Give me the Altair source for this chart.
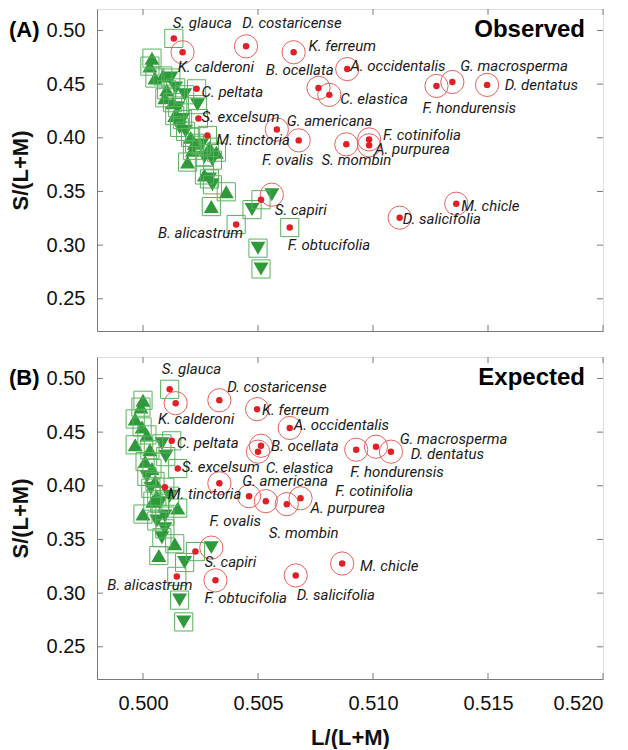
import altair as alt
import pandas as pd

# ---------------- data ----------------
species = ["S. glauca", "K. calderoni", "D. costaricense", "K. ferreum", "B. ocellata",
           "C. elastica", "A. occidentalis", "G. macrosperma", "F. hondurensis", "D. dentatus",
           "C. peltata", "S. excelsum", "G. americana", "M. tinctoria", "F. ovalis",
           "S. mombin", "F. cotinifolia", "A. purpurea", "S. capiri", "B. alicastrum",
           "F. obtucifolia", "D. salicifolia", "M. chicle"]

# (A) Observed
obs_L = [0.50134, 0.50172, 0.50448, 0.50655, 0.50763, 0.50810, 0.50888, 0.51345, 0.51276, 0.51496,
         0.50233, 0.50241, 0.50582, 0.50280, 0.50677, 0.50884, 0.50983, 0.50983, 0.50513, 0.50405,
         0.50638, 0.51116, 0.51362]
obs_S = [0.4926, 0.4797, 0.4852, 0.4797, 0.4465, 0.4400, 0.4640, 0.4520, 0.4483, 0.4493,
         0.4456, 0.4179, 0.4077, 0.4022, 0.3976, 0.3939, 0.3985, 0.3930, 0.3423, 0.3192,
         0.3164, 0.3256, 0.3386]
obs_frame = ["square", "circle", "circle", "circle", "circle", "circle", "circle", "circle", "circle", "circle",
             "square", "square", "circle", "square", "circle", "circle", "circle", "circle", "square", "square",
             "square", "circle", "circle"]
obs_label_L = [0.50129, 0.50151, 0.50431, 0.50720, 0.50534, 0.50858, 0.50901, 0.51379, 0.51215, 0.51573,
               0.50254, 0.50254, 0.50625, 0.50319, 0.50517, 0.50776, 0.51043, 0.51009, 0.50573, 0.50065,
               0.50629, 0.51129, 0.51384]
obs_label_S = [0.5065, 0.4659, 0.5065, 0.4852, 0.4631, 0.4364, 0.4668, 0.4668, 0.4281, 0.4493,
               0.4428, 0.4198, 0.4152, 0.3977, 0.3792, 0.3792, 0.4023, 0.3894, 0.3331, 0.3110,
               0.3000, 0.3239, 0.3368]

# (B) Expected
exp_L = [0.50116, 0.50142, 0.50332, 0.50496, 0.50513, 0.50500, 0.50638, 0.51013, 0.50927, 0.51078,
         0.50125, 0.50151, 0.50332, 0.50095, 0.50461, 0.50534, 0.50685, 0.50625, 0.50228, 0.50147,
         0.50315, 0.50664, 0.50866]
exp_S = [0.4899, 0.4770, 0.4797, 0.4714, 0.4373, 0.4318, 0.4539, 0.4364, 0.4336, 0.4318,
         0.4419, 0.4161, 0.4023, 0.3986, 0.3903, 0.3857, 0.3884, 0.3829, 0.3387, 0.3156,
         0.3119, 0.3165, 0.3276]
exp_frame = ["square", "circle", "circle", "circle", "circle", "circle", "circle", "circle", "circle", "circle",
             "square", "square", "circle", "square", "circle", "circle", "circle", "circle", "square", "square",
             "circle", "circle", "circle"]
exp_label_L = [0.50082, 0.50065, 0.50366, 0.50517, 0.50556, 0.50534, 0.50655, 0.51116, 0.50901, 0.51164,
               0.50147, 0.50168, 0.50431, 0.50108, 0.50289, 0.50547, 0.50836, 0.50728, 0.50267, 0.49845,
               0.50267, 0.50668, 0.50944]
exp_label_S = [0.5092, 0.4622, 0.4917, 0.4705, 0.4373, 0.4170, 0.4567, 0.4438, 0.4124, 0.4299,
               0.4401, 0.4179, 0.4041, 0.3921, 0.3672, 0.3562, 0.3949, 0.3792, 0.3294, 0.3073,
               0.2953, 0.2981, 0.3257]

# unlabeled samples (triangles)
obs_tri_L = [0.50039, 0.50030, 0.50052, 0.50086, 0.50121, 0.50103, 0.50142, 0.50181, 0.50095, 0.50129,
             0.50151, 0.50237, 0.50138, 0.50172, 0.50159, 0.50185, 0.50207, 0.50224, 0.50254, 0.50289,
             0.50319, 0.50215, 0.50194, 0.50267, 0.50302, 0.50267, 0.50289, 0.50302, 0.50362, 0.50297,
             0.50474, 0.50560, 0.50500, 0.50513]
obs_tri_S = [0.4742, 0.4668, 0.4557, 0.4576, 0.4557, 0.4447, 0.4465, 0.4401, 0.4373, 0.4327,
             0.4281, 0.4309, 0.4207, 0.4170, 0.4097, 0.4060, 0.4004, 0.3949, 0.3930, 0.3912,
             0.3866, 0.3884, 0.3774, 0.3820, 0.3792, 0.3654, 0.3617, 0.3562, 0.3497, 0.3359,
             0.3331, 0.3470, 0.2972, 0.2778]
obs_tri_dir = ["up", "up", "up", "up", "down", "up", "down", "down", "up", "up",
               "down", "down", "up", "down", "down", "down", "up", "up", "down", "up",
               "up", "up", "up", "down", "down", "up", "down", "down", "up", "up",
               "down", "down", "down", "down"]
obs_tri_frame = ["square"] * 31 + ["circle"] + ["square"] * 2

exp_tri_L = [0.50000, 0.49991, 0.49966, 0.49996, 0.50017, 0.49966, 0.50030, 0.50082, 0.50099, 0.50009,
             0.50039, 0.50017, 0.50052, 0.50034, 0.50060, 0.50073, 0.50043, 0.50000, 0.50151, 0.50095,
             0.50095, 0.50082, 0.50138, 0.50069, 0.50181, 0.50159, 0.50177, 0.50297, 0.50060, 0.50116]
exp_tri_S = [0.4797, 0.4733, 0.4622, 0.4548, 0.4474, 0.4382, 0.4336, 0.4391, 0.4272, 0.4226,
             0.4161, 0.4087, 0.4041, 0.3977, 0.3903, 0.3838, 0.3857, 0.3737, 0.3792, 0.3718,
             0.3599, 0.3516, 0.3460, 0.3350, 0.3285, 0.2935, 0.2732, 0.3424, 0.3672, 0.3903]
exp_tri_dir = ["up", "up", "up", "up", "up", "up", "up", "down", "down", "up",
               "up", "down", "up", "down", "up", "down", "up", "up", "up", "down",
               "down", "down", "up", "up", "down", "down", "down", "down", "down", "down"]
exp_tri_frame = ["square"] * 27 + ["circle"] + ["square"] * 2

x_ticks = [0.500, 0.505, 0.510, 0.515, 0.520]
y_ticks = [0.25, 0.30, 0.35, 0.40, 0.45, 0.50]

# ---------------- style ----------------
W, H = 506, 322
GREEN = "#2e9a3c"
GREEN_LINE = "#58b35c"
RED = "#e11f26"
RED_RING = "#e9605b"
GRAY = "#7a7a7a"
LABEL_FONT = "Roboto"

xs = alt.Scale(domain=[0.498, 0.520], nice=False, zero=False)
ys = alt.Scale(domain=[0.22, 0.52], nice=False, zero=False)


def panel(L, S, frame, lab_L, lab_S, tL, tS, tdir, tframe, tag, word, show_x):
    pts = pd.DataFrame({"name": species, "L": L, "S": S, "frame": frame,
                        "lL": lab_L, "lS": lab_S})
    tri = pd.DataFrame({"L": tL, "S": tS, "dir": tdir, "frame": tframe})
    frames = pd.concat([pts[["L", "S", "frame"]], tri[["L", "S", "frame"]]], ignore_index=True)

    x_axis = alt.Axis(values=x_ticks, format=".3f", ticks=False, grid=False,
                      labels=show_x, labelFontSize=20, labelFont="Liberation Sans",
                      labelPadding=14, labelColor="#111", domainColor=GRAY,
                      titleFontSize=22, titleFont="Liberation Sans", titleFontWeight="bold",
                      titlePadding=14, titleColor="#111")
    y_axis = alt.Axis(values=y_ticks, format=".2f", ticks=False, grid=False,
                      labelFontSize=20, labelFont="Liberation Sans", labelPadding=12,
                      labelColor="#111", domainColor=GRAY,
                      titleFontSize=22, titleFont="Liberation Sans",
                      titleFontWeight="bold", titlePadding=14, titleColor="#111")
    xt_title = "L/(L+M)" if show_x else None

    def X(f):
        if xt_title is None:
            return alt.X(f, scale=xs, axis=x_axis, title=None)
        return alt.X(f, scale=xs, axis=x_axis, title=xt_title)

    def Y(f):
        return alt.Y(f, scale=ys, axis=y_axis, title="S/(L+M)")

    tri_layer = alt.Chart(tri).mark_point(filled=True, size=225, opacity=1, color=GREEN).encode(
        x=X("L:Q"), y=Y("S:Q"),
        shape=alt.Shape("dir:N", scale=alt.Scale(domain=["up", "down"],
                                                  range=["triangle-up", "triangle-down"]),
                        legend=None),
    )
    sq_layer = alt.Chart(frames).transform_filter(alt.datum.frame == "square").mark_point(
        shape="square", filled=False, size=330, strokeWidth=1, color=GREEN_LINE, opacity=1
    ).encode(x=X("L:Q"), y=Y("S:Q"))
    ring_layer = alt.Chart(frames).transform_filter(alt.datum.frame == "circle").mark_point(
        shape="circle", filled=False, size=540, strokeWidth=1, color=RED_RING, opacity=1
    ).encode(x=X("L:Q"), y=Y("S:Q"))
    dot_layer = alt.Chart(pts).mark_point(shape="circle", filled=True, size=42, color=RED, opacity=1).encode(
        x=X("L:Q"), y=Y("S:Q"))
    lab_layer = alt.Chart(pts).mark_text(align="left", baseline="middle", font=LABEL_FONT,
                                         fontStyle="italic", fontSize=15, color="#1a1a1a").encode(
        x=X("lL:Q"), y=Y("lS:Q"), text="name:N")

    xt = pd.DataFrame({"v": x_ticks})
    yt = pd.DataFrame({"v": y_ticks})
    tb = alt.Chart(xt).mark_rule(color=GRAY, strokeWidth=1).encode(
        x=X("v:Q"), y=alt.value(H), y2=alt.value(H - 6))
    tt = alt.Chart(xt).mark_rule(color=GRAY, strokeWidth=1).encode(
        x=X("v:Q"), y=alt.value(0), y2=alt.value(6))
    tl = alt.Chart(yt).mark_rule(color=GRAY, strokeWidth=1).encode(
        y=Y("v:Q"), x=alt.value(0), x2=alt.value(6))
    tr = alt.Chart(yt).mark_rule(color=GRAY, strokeWidth=1).encode(
        y=Y("v:Q"), x=alt.value(W), x2=alt.value(W - 6))

    word_layer = alt.Chart(pd.DataFrame({"t": [word], "v": [0.50]})).mark_text(
        align="right", baseline="middle", font="Liberation Sans", fontWeight="bold",
        fontSize=24, color="#000").encode(
        x=alt.value(W - 18), y=Y("v:Q"), text="t:N")
    tag_layer = alt.Chart(pd.DataFrame({"t": [tag], "v": [0.50]})).mark_text(
        align="left", baseline="middle", font="Liberation Sans", fontWeight="bold",
        fontSize=22, color="#000").encode(
        x=alt.value(-88), y=Y("v:Q"), text="t:N")

    return alt.layer(tri_layer, sq_layer, ring_layer, dot_layer, lab_layer,
                     tb, tt, tl, tr, word_layer, tag_layer).properties(width=W, height=H)


pA = panel(obs_L, obs_S, obs_frame, obs_label_L, obs_label_S,
           obs_tri_L, obs_tri_S, obs_tri_dir, obs_tri_frame, "(A)", "Observed", False)
pB = panel(exp_L, exp_S, exp_frame, exp_label_L, exp_label_S,
           exp_tri_L, exp_tri_S, exp_tri_dir, exp_tri_frame, "(B)", "Expected", True)

chart = alt.vconcat(pA, pB, spacing=24).configure_view(
    stroke=GRAY, strokeWidth=1
).configure(background="white", padding=0)

chart.save("out.html", embed_options={"renderer": "svg", "actions": False})
